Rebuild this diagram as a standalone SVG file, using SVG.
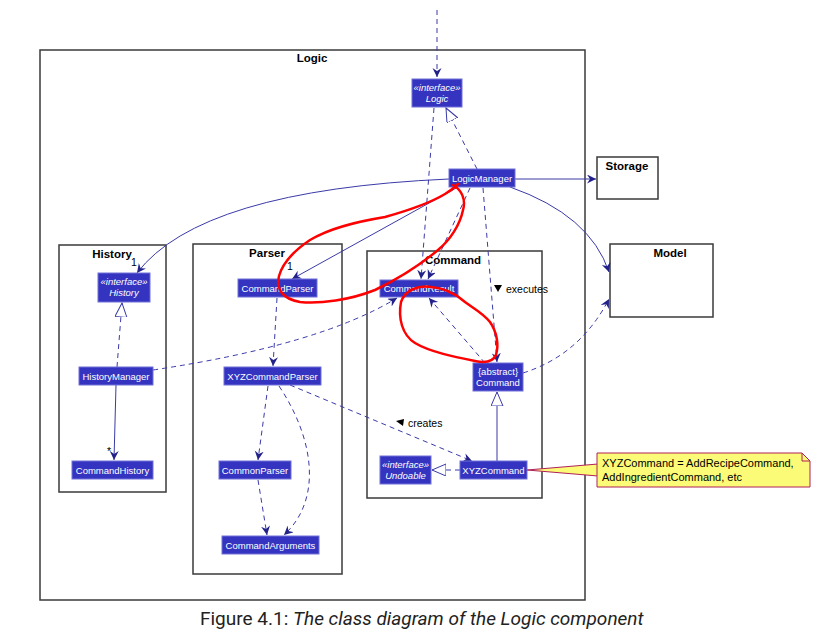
<svg xmlns="http://www.w3.org/2000/svg" width="838" height="644" viewBox="0 0 838 644">
<style>
.pkg{fill:#fff;stroke:#3a3a3a;stroke-width:1.5}
.pt{font-family:"Liberation Sans",Arial,sans-serif;font-size:11.5px;font-weight:bold;fill:#000;text-anchor:middle}
.box{fill:#3434C0;stroke:#7070D8;stroke-width:1}
.bt{font-family:"Liberation Sans",Arial,sans-serif;font-size:9.5px;fill:#fff;text-anchor:middle}
.it{font-style:italic}
.c{fill:none;stroke:#3a3aa8;stroke-width:1}
.d{stroke-dasharray:5,4}
.lbl{font-family:"Liberation Sans",Arial,sans-serif;font-size:10.5px;fill:#000}
.red{fill:none;stroke:#ff0000;stroke-width:2.5;stroke-linecap:round;stroke-linejoin:round}
</style>
<defs>
<marker id="arr" markerWidth="12" markerHeight="10" refX="9" refY="4.5" orient="auto" markerUnits="userSpaceOnUse">
<path d="M0,0 L9,4.5 L0,9 L3,4.5 Z" fill="#22228a"/>
</marker>
<marker id="tri" markerWidth="18" markerHeight="14" refX="14" refY="6" orient="auto" markerUnits="userSpaceOnUse">
<path d="M0,0 L14,6 L0,12 Z" fill="#fff" stroke="#3a3aa8" stroke-width="1"/>
</marker>
</defs>
<rect width="838" height="644" fill="#fff"/>

<g id="pkg-logic"><rect class="pkg" x="40" y="50" width="545" height="550"/><text class="pt" x="312" y="62">Logic</text></g>
<g id="pkg-history"><rect class="pkg" x="59" y="245" width="107" height="247"/><text class="pt" x="112" y="258">History</text></g>
<g id="pkg-parser"><rect class="pkg" x="193" y="244" width="149" height="330"/><text class="pt" x="267" y="257">Parser</text></g>
<g id="pkg-command"><rect class="pkg" x="367" y="251" width="175" height="247"/><text class="pt" x="453" y="264">Command</text></g>
<g id="storage"><rect class="pkg" x="597" y="157" width="61" height="42"/><text class="pt" x="627" y="170">Storage</text></g>
<g id="model"><rect class="pkg" x="610" y="244" width="103" height="73"/><text class="pt" x="670" y="257">Model</text></g>

<g id="connectors">
<line class="c d" x1="437" y1="10" x2="437" y2="77" marker-end="url(#arr)"/>
<line class="c d" x1="477" y1="169" x2="446" y2="108" marker-end="url(#tri)"/>
<line class="c" x1="515" y1="179" x2="596" y2="179" marker-end="url(#arr)"/>
<path class="c" d="M510,187 Q590,215 609,272" marker-end="url(#arr)"/>
<path class="c" d="M449,179 Q200,190 137,273" marker-end="url(#arr)"/>
<line class="c" x1="458" y1="187" x2="292" y2="279" marker-end="url(#arr)"/>
<line class="c d" x1="434" y1="108" x2="421" y2="279" marker-end="url(#arr)"/>
<line class="c d" x1="470" y1="188" x2="428" y2="279" marker-end="url(#arr)"/>
<line class="c d" x1="483" y1="188" x2="497" y2="362" marker-end="url(#arr)"/>
<line class="c d" x1="485" y1="363" x2="429" y2="298" marker-end="url(#arr)"/>
<path class="c d" d="M153,370 Q320,345 397,298" marker-end="url(#arr)"/>
<path class="c d" d="M523,373 Q580,355 609,299" marker-end="url(#arr)"/>
<line class="c d" x1="117" y1="367" x2="122" y2="303" marker-end="url(#tri)"/>
<line class="c" x1="116" y1="385" x2="114" y2="460" marker-end="url(#arr)"/>
<line class="c d" x1="277" y1="298" x2="273" y2="366" marker-end="url(#arr)"/>
<line class="c d" x1="268" y1="386" x2="258" y2="460" marker-end="url(#arr)"/>
<path class="c d" d="M279,386 C315,440 322,500 284,535" marker-end="url(#arr)"/>
<line class="c d" x1="258" y1="480" x2="267" y2="535" marker-end="url(#arr)"/>
<line class="c d" x1="290" y1="385" x2="472" y2="461" marker-end="url(#arr)"/>
<line class="c" x1="497" y1="461" x2="497" y2="392" marker-end="url(#tri)"/>
<line class="c d" x1="460" y1="470" x2="432" y2="470" marker-end="url(#tri)"/>
<polygon points="527,470 598,464 598,476" fill="#fbfb77" stroke="#b0205a" stroke-width="1"/>
<text class="lbl" x="131" y="266">1</text>
<text class="lbl" x="287" y="270">1</text>
<text class="lbl" x="107" y="455">*</text>
<path d="M494,285 L502,285 L498,292 Z" fill="#000"/>
<text class="lbl" x="506" y="293">executes</text>
<path d="M396,421 L404,419 L403,426 Z" fill="#000"/>
<text class="lbl" x="408" y="427">creates</text>
</g>

<g id="logic-if"><rect class="box" x="412" y="79" width="50" height="28"/><text class="bt it" x="437" y="91">«interface»</text><text class="bt it" x="437" y="102">Logic</text></g>
<g id="logicmanager"><rect class="box" x="449" y="169" width="66" height="18"/><text class="bt" x="482" y="181.5">LogicManager</text></g>
<g id="history-if"><rect class="box" x="98" y="273" width="52" height="29"/><text class="bt it" x="124" y="285">«interface»</text><text class="bt it" x="124" y="296">History</text></g>
<g id="historymanager"><rect class="box" x="79" y="367" width="74" height="18"/><text class="bt" x="116" y="379.5">HistoryManager</text></g>
<g id="commandhistory"><rect class="box" x="72" y="461" width="81" height="18"/><text class="bt" x="112.5" y="473.5">CommandHistory</text></g>
<g id="commandparser"><rect class="box" x="238" y="279" width="79" height="18"/><text class="bt" x="277.5" y="291.5">CommandParser</text></g>
<g id="xyzcommandparser"><rect class="box" x="224" y="367" width="97" height="18"/><text class="bt" x="272.5" y="379.5">XYZCommandParser</text></g>
<g id="commonparser"><rect class="box" x="219" y="461" width="72" height="18"/><text class="bt" x="255" y="473.5">CommonParser</text></g>
<g id="commandarguments"><rect class="box" x="222" y="536" width="97" height="18"/><text class="bt" x="270.5" y="548.5">CommandArguments</text></g>
<g id="commandresult"><rect class="box" x="380" y="280" width="78" height="17"/><text class="bt" x="419" y="292">CommandResult</text></g>
<g id="command"><rect class="box" x="473" y="363" width="50" height="28"/><text class="bt" x="498" y="375">{abstract}</text><text class="bt" x="498" y="386">Command</text></g>
<g id="undoable"><rect class="box" x="380" y="456" width="51" height="28"/><text class="bt it" x="405.5" y="468">«interface»</text><text class="bt it" x="405.5" y="479">Undoable</text></g>
<g id="xyzcommand"><rect class="box" x="460" y="461" width="67" height="18"/><text class="bt" x="493.5" y="473.5">XYZCommand</text></g>

<g id="note">
<path d="M597,453 L802,453 L810,461 L810,487 L597,487 Z" fill="#fbfb77" stroke="#b0205a" stroke-width="1"/>
<path d="M802,453 L802,461 L810,461" fill="none" stroke="#b0205a" stroke-width="1"/>
<text font-family="'Liberation Sans',Arial,sans-serif" font-size="11" fill="#000" x="602" y="467">XYZCommand = AddRecipeCommand,</text>
<text font-family="'Liberation Sans',Arial,sans-serif" font-size="11" fill="#000" x="602" y="481">AddIngredientCommand, etc</text>
</g>

<g id="annotations">
<path class="red" d="M453,185 C462,190 466,200 463,210 C460,225 450,240 438,250 C420,265 400,278 375,290 C350,300 320,304 300,302 C283,299 276,290 279,276 C283,262 295,250 310,240 C330,228 355,222 385,217 C410,210 430,203 445,194 C452,190 456,186 458,184"/>
<path class="red" d="M431,287 C418,285 405,290 401,302 C398,318 402,335 415,343 C430,352 455,357 475,361 C485,363 493,362 496,355 C499,345 497,332 490,322 C483,313 473,308 465,302 C457,295 447,288 431,287 Z"/>
</g>

<text font-family="Roboto,'Liberation Sans',sans-serif" font-size="19" fill="#222" x="200" y="625">Figure 4.1: <tspan font-style="italic">The class diagram of the Logic component</tspan></text>
</svg>
